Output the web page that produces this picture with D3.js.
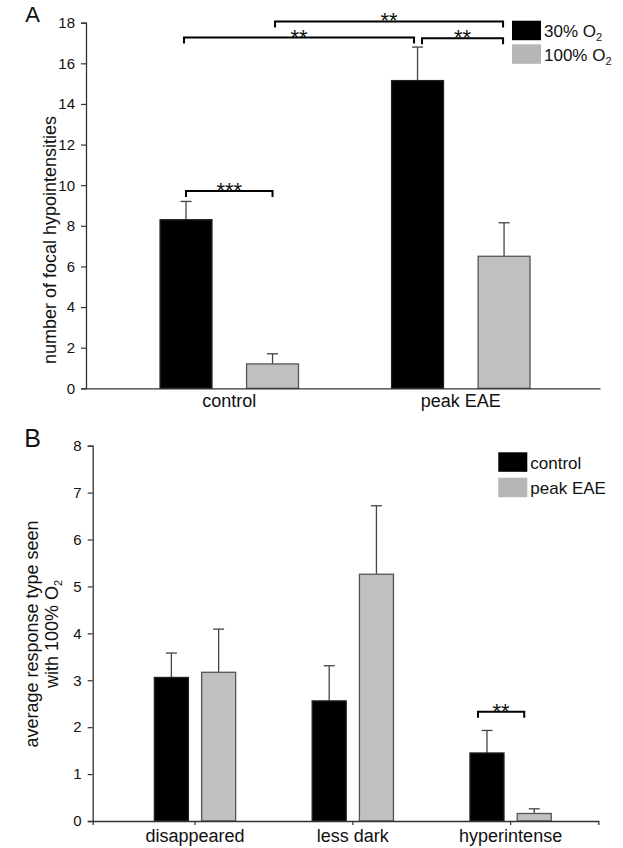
<!DOCTYPE html>
<html>
<head>
<meta charset="utf-8">
<script src="https://cdn.jsdelivr.net/npm/d3@7"></script>
<style>
  html, body { margin: 0; padding: 0; background: #fff; }
  svg { display: block; font-family: "Liberation Sans", Arial, sans-serif; }
</style>
</head>
<body>
<svg id="chart" width="623" height="848"></svg>
<script>
// ---------- Panel A data ----------
const groupsA = ["control", "peak EAE"];
const seriesA = ["30%", "100%"];
const means30 = [8.3, 15.15];
const err30 = [0.9, 1.65];
const means100 = [1.2, 6.5];
const err100 = [0.5, 1.65];
const ticksA = [0, 2, 4, 6, 8, 10, 12, 14, 16, 18];
// significance brackets A: [groupIndex, seriesIndex] ends, level in data units, nudges in px
const sigA = [
  { from: [0, 0], to: [0, 1], level: 9.72, label: "***", nudge: [0, 0] },
  { from: [0, 0], to: [1, 0], level: 17.27, label: "**", nudge: [-2, -3.5] },
  { from: [1, 0], to: [1, 1], level: 17.23, label: "**", nudge: [4.5, -1] },
  { from: [0, 1], to: [1, 1], level: 18.06, label: "**", nudge: [2.5, -1] }
];

// ---------- Panel B data ----------
const categoriesB = ["disappeared", "less dark", "hyperintense"];
const seriesB = ["control", "peak EAE"];
const controlB = [3.06, 2.56, 1.45];
const errControlB = [0.52, 0.75, 0.48];
const peakB = [3.17, 5.26, 0.16];
const errPeakB = [0.92, 1.46, 0.10];
const ticksB = [0, 1, 2, 3, 4, 5, 6, 7, 8];
const sigB = [
  { from: [2, 0], to: [2, 1], level: 2.33, label: "**", nudge: [-9, -10] }
];

const svg = d3.select("#chart");
const FONT = '"Liberation Sans", Arial, sans-serif';
const BLACK = "#000", GRAY = "#c0c0c0", LEGGRAY = "#b6b6b6";
const AXIS = "#333";

function styleAxis(g, fontSize) {
  g.select(".domain").attr("stroke", AXIS).attr("stroke-width", 1.3);
  g.selectAll(".tick line").attr("stroke", AXIS).attr("stroke-width", 1.2);
  g.selectAll(".tick text").attr("fill", "#111").style("font-size", fontSize + "px").style("font-family", FONT);
}

function drawPanel(cfg) {
  const g = svg.append("g");
  const y = d3.scaleLinear().domain(cfg.yDomain).range(cfg.yRange);
  const x0 = d3.scaleBand().domain(cfg.groups).range(cfg.xRange)
    .paddingInner(0).paddingOuter(cfg.outerPad).align(cfg.align);
  const x1 = d3.scaleBand().domain(cfg.series).range([0, x0.bandwidth()])
    .paddingInner(cfg.innerPad).paddingOuter(cfg.innerOuter);
  const cx = (gi, si) => x0(cfg.groups[gi]) + x1(cfg.series[si]) + x1.bandwidth() / 2;

  // y axis
  const ya = g.append("g").attr("transform", `translate(${cfg.xRange[0]},0)`)
    .call(d3.axisLeft(y).tickValues(cfg.yTicks).tickSizeOuter(0).tickSize(5).tickPadding(6));
  styleAxis(ya, 15);

  // bars
  cfg.values.forEach((vals, si) => {
    vals.forEach((v, gi) => {
      const xL = x0(cfg.groups[gi]) + x1(cfg.series[si]);
      const top = y(v), ecap = y(v + cfg.errors[si][gi]);
      const xc = xL + x1.bandwidth() / 2;
      g.append("line").attr("x1", xc).attr("x2", xc).attr("y1", top).attr("y2", ecap)
        .attr("stroke", "#444").attr("stroke-width", 1.3);
      g.append("line").attr("x1", xc - 5.5).attr("x2", xc + 5.5).attr("y1", ecap).attr("y2", ecap)
        .attr("stroke", "#444").attr("stroke-width", 1.3);
      g.append("rect").attr("x", xL).attr("y", top)
        .attr("width", x1.bandwidth()).attr("height", y(0) - top)
        .attr("fill", si === 0 ? BLACK : GRAY)
        .attr("stroke", si === 0 ? "#222" : "#555").attr("stroke-width", 1.3);
    });
  });

  // x axis
  const xa = g.append("g").attr("transform", `translate(0,${y(0)})`)
    .call(d3.axisBottom(x0).tickSizeOuter(0).tickSize(cfg.xTickSize).tickPadding(cfg.xTickPad));
  styleAxis(xa, 18);

  // significance brackets
  cfg.sig.forEach(s => {
    const xa1 = cx(s.from[0], s.from[1]) + s.nudge[0];
    const xa2 = cx(s.to[0], s.to[1]) + s.nudge[1];
    const ly = y(s.level);
    g.append("path")
      .attr("d", `M${xa1},${ly + 6}V${ly}H${xa2}V${ly + 6}`)
      .attr("fill", "none").attr("stroke", "#000").attr("stroke-width", 2);
    g.append("text").attr("x", (xa1 + xa2) / 2).attr("y", ly + 7)
      .attr("text-anchor", "middle").style("font-size", "22px").style("font-family", FONT)
      .attr("fill", "#111").text(s.label);
  });

  // legend
  cfg.legend.labels.forEach((lab, i) => {
    const ly = cfg.legend.y + i * cfg.legend.step;
    g.append("rect").attr("x", cfg.legend.x).attr("y", ly)
      .attr("width", 29).attr("height", 19.5)
      .attr("fill", i === 0 ? BLACK : LEGGRAY);
    const t = g.append("text").attr("x", cfg.legend.x + 32).attr("y", ly + 16.5)
      .style("font-size", "17px").style("font-family", FONT).attr("fill", "#111");
    t.append("tspan").text(lab.main);
    if (lab.sub) {
      t.append("tspan").attr("dy", 4).style("font-size", "11px").text(lab.sub);
    }
  });

  // panel letter
  svg.append("text").attr("x", cfg.letter.x).attr("y", cfg.letter.y)
    .attr("text-anchor", "middle").style("font-size", cfg.letter.size + "px")
    .style("font-family", FONT).attr("fill", "#111").text(cfg.letter.text);

  // y title
  const tt = svg.append("text")
    .attr("transform", `translate(${cfg.title.x},${cfg.title.y}) rotate(-90)`)
    .attr("text-anchor", "middle").style("font-size", "18px")
    .style("font-family", FONT).attr("fill", "#111");
  cfg.title.lines.forEach((ln, i) => {
    const ts = tt.append("tspan").attr("x", 0).attr("y", i * cfg.title.lh);
    ts.append("tspan").text(ln.main);
    if (ln.sub) ts.append("tspan").attr("dy", 4).style("font-size", "11px").text(ln.sub);
  });
}

drawPanel({
  groups: groupsA, series: seriesA,
  values: [means30, means100], errors: [err30, err100],
  yDomain: [0, 18], yRange: [388.3, 22.7], yTicks: ticksA,
  xRange: [86, 600], outerPad: 0.11, align: 0.54, innerPad: 0.4, innerOuter: 0.538,
  xTickSize: 0, xTickPad: 6,
  sig: sigA,
  legend: { x: 512, y: 20.7, step: 23.6, labels: [{ main: "30% O", sub: "2" }, { main: "100% O", sub: "2" }] },
  letter: { text: "A", x: 32.5, y: 22, size: 22 },
  title: { x: 56, y: 240, lh: 0, lines: [{ main: "number of focal hypointensities" }] }
});

drawPanel({
  groups: categoriesB, series: seriesB,
  values: [controlB, peakB], errors: [errControlB, errPeakB],
  yDomain: [0, 8], yRange: [821, 445.7], yTicks: ticksB,
  xRange: [92.7, 598.3], outerPad: 0.102, align: 0.727, innerPad: 0.28, innerOuter: 0.81,
  xTickSize: 4, xTickPad: 4,
  sig: sigB,
  legend: { x: 498.3, y: 452.3, step: 25.4, labels: [{ main: "control" }, { main: "peak EAE" }] },
  letter: { text: "B", x: 32.5, y: 447, size: 25 },
  title: { x: 38, y: 634, lh: 20, lines: [{ main: "average response type seen" }, { main: "with 100% O", sub: "2" }] }
});
</script>
</body>
</html>
